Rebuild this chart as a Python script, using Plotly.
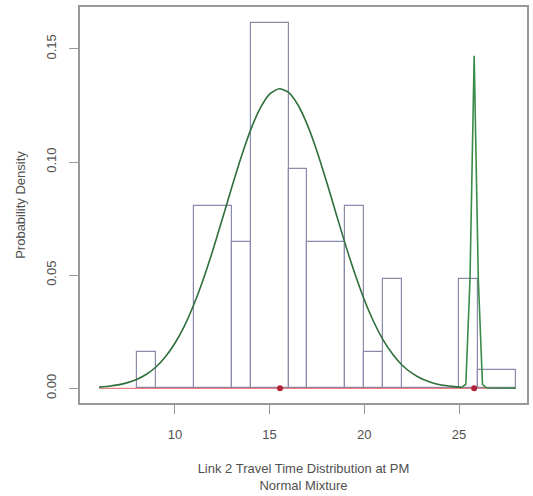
import plotly.graph_objects as go

# Histogram (density scale): bin edges and densities
bin_edges = [8, 9, 11, 13, 14, 16, 17, 19, 20, 21, 22, 25, 26, 28]
bin_density = [0.0161, 0.0, 0.0806, 0.0645, 0.1613, 0.0968, 0.0645, 0.0806,
               0.0161, 0.0484, 0.0, 0.0484, 0.0081]

# Fitted normal-mixture density curve
curve_x = [6, 6.5, 7, 7.5, 8, 8.5, 9, 9.5, 10, 10.5, 11, 11.5, 12, 12.5, 13,
           13.5, 14, 14.5, 15, 15.5, 16, 16.5, 17, 17.5, 18, 18.5, 19, 19.5,
           20, 20.5, 21, 21.5, 22, 22.5, 23, 23.5, 24, 24.5, 25, 25.14, 25.36,
           25.58, 25.80, 26.02, 26.24, 26.46, 27, 27.5, 28]
curve_y = [0.0005, 0.0009, 0.0015, 0.0025, 0.0040, 0.0062, 0.0094, 0.0139,
           0.0199, 0.0275, 0.0370, 0.0482, 0.0609, 0.0747, 0.0887, 0.1022,
           0.1142, 0.1237, 0.1300, 0.1324, 0.1308, 0.1252, 0.1163, 0.1048,
           0.0915, 0.0775, 0.0636, 0.0507, 0.0391, 0.0293, 0.0213, 0.0150,
           0.0102, 0.0068, 0.0043, 0.0027, 0.0016, 0.0010, 0.0005, 0.0004,
           0.0018, 0.0480, 0.1470, 0.0480, 0.0017, 0.0001, 0.0, 0.0, 0.0]

# Component means (red points on the baseline)
mixture_means = [15.55, 25.80]
baseline_x = [6, 28]

x_ticks = [10, 15, 20, 25]
y_ticks = [0.0, 0.05, 0.10, 0.15]
y_tick_text = ["0.00", "0.05", "0.10", "0.15"]

bin_centers = [(a + b) / 2 for a, b in zip(bin_edges[:-1], bin_edges[1:])]
bin_widths = [b - a for a, b in zip(bin_edges[:-1], bin_edges[1:])]

# split the curve: smooth main bump, straight-segment narrow spike
split = curve_x.index(25.14)
main_x, main_y = curve_x[:split + 1], curve_y[:split + 1]
spike_x, spike_y = curve_x[split:], curve_y[split:]

FONT = "Liberation Sans, Arial, sans-serif"
TEXT = "#505050"
AXIS = "#999999"
GREEN = "#2f6f3c"

fig = go.Figure()
fig.add_trace(go.Bar(
    x=bin_centers, y=bin_density, width=bin_widths,
    marker=dict(color="rgba(0,0,0,0)", line=dict(color="#8a8aac", width=1.2)),
    showlegend=False, hoverinfo="skip"))
fig.add_trace(go.Scatter(
    x=baseline_x, y=[0, 0], mode="lines",
    line=dict(color="rgba(220,90,90,0.75)", width=1.2),
    showlegend=False, hoverinfo="skip"))
fig.add_trace(go.Scatter(
    x=main_x, y=main_y, mode="lines", line_shape="spline",
    line=dict(color=GREEN, width=1.6, smoothing=0.6),
    showlegend=False))
fig.add_trace(go.Scatter(
    x=spike_x, y=spike_y, mode="lines",
    line=dict(color="#3a8a48", width=1.6),
    showlegend=False))
fig.add_trace(go.Scatter(
    x=mixture_means, y=[0] * len(mixture_means), mode="markers",
    marker=dict(color="#b0243a", size=6),
    showlegend=False))

fig.update_layout(
    width=533, height=496,
    margin=dict(l=80, r=6, t=7, b=93),
    paper_bgcolor="white", plot_bgcolor="white",
    font=dict(family=FONT, size=13, color=TEXT),
    bargap=0,
)
fig.update_xaxes(
    range=[4.99, 28.59], tickvals=x_ticks, ticks="outside", ticklen=9,
    tickcolor=AXIS, showline=True, linecolor=AXIS, linewidth=1.5, mirror=True,
    showgrid=False, zeroline=False, ticklabelstandoff=10, automargin=False,
    title=dict(text="Link 2 Travel Time Distribution at PM<br>Normal Mixture",
               standoff=23, font=dict(size=13, color=TEXT)))
fig.update_yaxes(
    range=[-0.0065, 0.1685], tickvals=y_ticks, ticktext=y_tick_text,
    tickangle=-90, ticks="outside", ticklen=9, tickcolor=AXIS,
    showline=True, linecolor=AXIS, linewidth=1.5, mirror=True,
    showgrid=False, zeroline=False, ticklabelstandoff=8, automargin=False,
    title=dict(text="Probability Density", standoff=15,
               font=dict(size=13, color=TEXT)))

fig.write_html("out.html", config={"displayModeBar": False},
               post_script="document.body.style.margin='0';"
                           "document.body.style.overflow='hidden';")
